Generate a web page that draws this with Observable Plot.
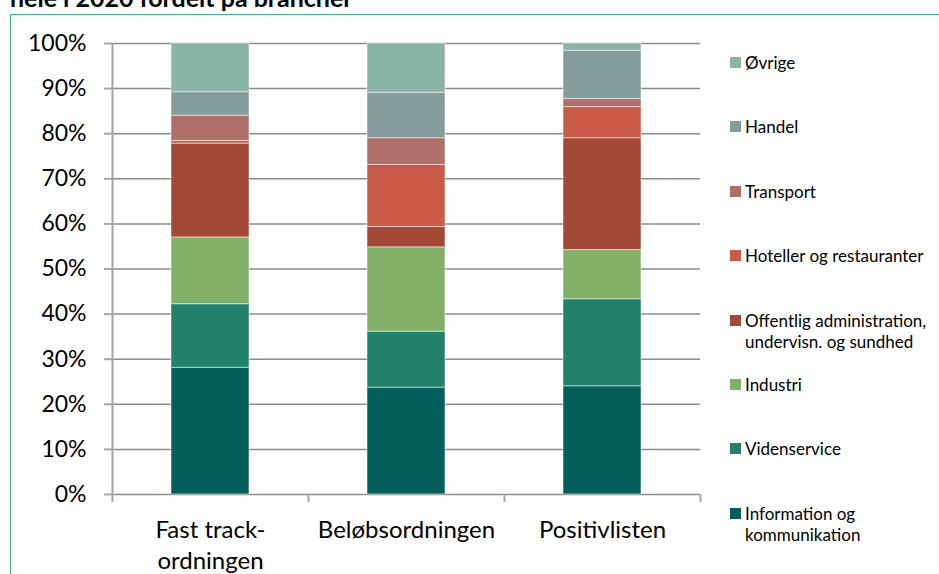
<!DOCTYPE html>
<html>
<head>
<meta charset="utf-8">
<script src="https://cdn.jsdelivr.net/npm/d3@7"></script>
<script src="https://cdn.jsdelivr.net/npm/@observablehq/plot@0.6"></script>
<style>
  body { margin: 0; background: #fff; font-family: Lato, sans-serif; }
  #wrap { position: relative; width: 939px; height: 574px; overflow: hidden; }
  #frame { position: absolute; left: 10px; top: 14px; width: 940px; height: 600px;
           border-left: 1px solid #3db38c; border-top: 1px solid #3db38c; }
  #title { position: absolute; left: 10px; top: -15px; font-size: 25px; font-weight: bold;
           line-height: 1; white-space: nowrap; color: #000; }
  #chart { position: absolute; left: 0; top: 0; }
  .lg { position: absolute; left: 730px; font-size: 17px; line-height: 21px; color: #000; }
  .lg .sw { position: absolute; left: 0; top: 5px; width: 11px; height: 11px; }
  .lg .tx { position: absolute; left: 15px; top: 0; white-space: nowrap; }
</style>
</head>
<body>
<div id="wrap">
  <div id="frame"></div>
  <div id="title">hele i 2020 fordelt på brancher</div>
  <div id="chart"></div>
</div>
<script>
const categories = ["Fast track-ordningen", "Beløbsordningen", "Positivlisten"];
const categoryLabels = ["Fast track-\nordningen", "Beløbsordningen", "Positivlisten"];
const series = [
  "Information og kommunikation",
  "Videnservice",
  "Industri",
  "Offentlig administration, undervisn. og sundhed",
  "Hoteller og restauranter",
  "Transport",
  "Handel",
  "Øvrige"
];
const legendLabels = [
  "Information og\nkommunikation",
  "Videnservice",
  "Industri",
  "Offentlig administration,\nundervisn. og sundhed",
  "Hoteller og restauranter",
  "Transport",
  "Handel",
  "Øvrige"
];
const colors = ["#045e5b", "#23806b", "#83b068", "#a34836", "#c95b48", "#af706a", "#849d9c", "#8ab4a4"];
// shares (%) per series, one value per category
const fastTrack   = [28.1, 14.1, 14.8, 20.8, 0.6, 5.6, 5.2, 10.8];
const belob       = [23.7, 12.4, 18.7, 4.5, 13.8, 5.9, 10.1, 10.9];
const positivlist = [24.0, 19.3, 10.9, 24.8, 6.9, 1.8, 10.7, 1.6];
const yTicks = [0, 10, 20, 30, 40, 50, 60, 70, 80, 90, 100];

const valuesByCat = [fastTrack, belob, positivlist];
const data = [];
series.forEach((s, j) => categories.forEach((c, i) => data.push({cat: c, series: s, value: valuesByCat[i][j]})));

const axisGray = "#a6a6a6";
const gridGray = "#8c8c8c";

const chart = Plot.plot({
  width: 939,
  height: 574,
  marginLeft: 112,
  marginRight: 239,
  marginTop: 43,
  marginBottom: 80,
  style: {fontFamily: "Lato, sans-serif", background: "transparent", color: "#000"},
  x: {domain: categories, paddingInner: 0.6, paddingOuter: 0.3, axis: null},
  y: {domain: [0, 100], axis: null},
  color: {domain: series, range: colors},
  marks: [
    Plot.ruleY(yTicks, {stroke: gridGray, strokeWidth: 1.5}),
    Plot.barY(data, {x: "cat", y: "value", fill: "series", stroke: "#ffffff", strokeOpacity: 0.5, strokeWidth: 1}),
    Plot.ruleX([categories[0]], {x: d => d, dx: -98, y1: 100, y2: 0, insetBottom: -8, stroke: axisGray, strokeWidth: 2}),
    Plot.ruleX(categories, {x: d => d, dx: 98, y1: 0, y2: 0, insetBottom: -8, stroke: axisGray, strokeWidth: 2}),
    Plot.axisY({ticks: yTicks, tickFormat: d => d + "%", tickSize: 8, tickPadding: 18, fontSize: 23, label: null,
      stroke: axisGray, strokeWidth: 2, fill: "#000"}),
    Plot.axisX({tickSize: 0, tickPadding: 21, fontSize: 24, lineHeight: 1.3, label: null, fill: "#000",
      tickFormat: d => categoryLabels[categories.indexOf(d)]})
  ]
});
document.getElementById("chart").appendChild(chart);

// legend (top = last series)
const wrap = document.getElementById("wrap");
const order = series.map((s, j) => j).reverse();
order.forEach((j, k) => {
  const el = document.createElement("div");
  el.className = "lg";
  el.style.top = (62.3 + k * 64.43 - 10.5) + "px";
  const sw = document.createElement("div");
  sw.className = "sw";
  sw.style.background = colors[j];
  const tx = document.createElement("div");
  tx.className = "tx";
  tx.innerHTML = legendLabels[j].split("\n").join("<br>");
  el.appendChild(sw);
  el.appendChild(tx);
  wrap.appendChild(el);
});
</script>
</body>
</html>
